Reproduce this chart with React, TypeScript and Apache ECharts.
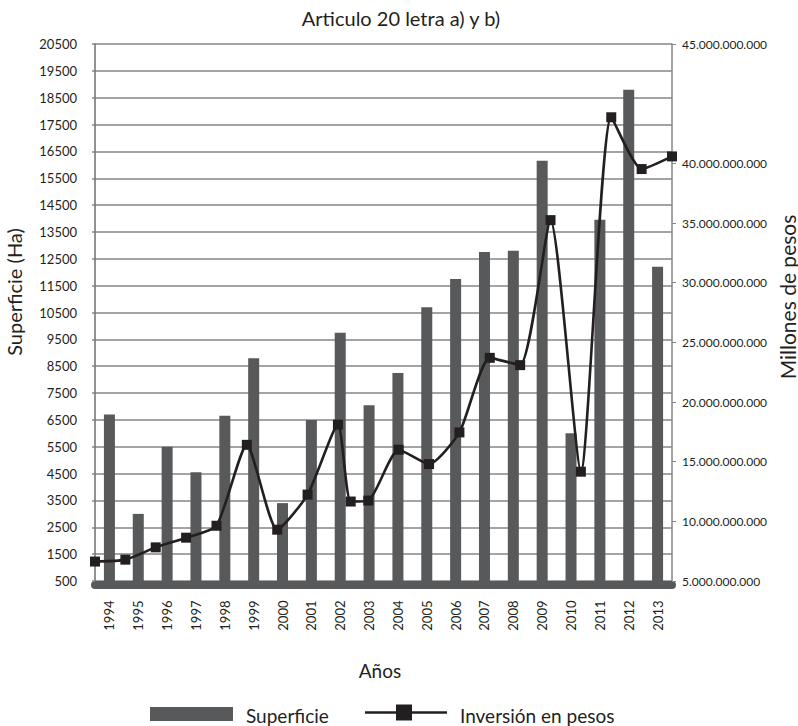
import { useEffect, useRef } from 'react';
import * as echarts from 'echarts';

// Años del período
const years = [
  '1994', '1995', '1996', '1997', '1998', '1999', '2000', '2001', '2002', '2003',
  '2004', '2005', '2006', '2007', '2008', '2009', '2010', '2011', '2012', '2013',
];

// Superficie (Ha) por año
const superficie = [
  6700, 3000, 5500, 4550, 6650, 8800, 3400, 6500, 9750, 7050,
  8250, 10700, 11750, 12750, 12800, 16150, 6000, 13950, 18800, 12200,
];

// Inversión en pesos: posición en la escala de años y monto
const inversionYear = [
  1994, 1995, 1996, 1997, 1998, 1999, 2000, 2001, 2002, 2002.42, 2003,
  2004, 2005, 2006, 2007, 2008, 2009, 2010, 2011, 2012, 2013,
];
const inversion = [
  6.63e9, 6.79e9, 7.82e9, 8.63e9, 9.63e9, 16.41e9, 9.3e9, 12.24e9, 18.1e9, 11.66e9, 11.74e9,
  16.0e9, 14.8e9, 17.45e9, 23.7e9, 23.09e9, 35.24e9, 14.16e9, 43.86e9, 39.52e9, 40.58e9,
];

// Eje secundario: valores marcados y sus textos
const rightTickValues = [5e9, 10e9, 15e9, 20e9, 25e9, 30e9, 35e9, 40e9, 50e9];
const rightTickLabels = [
  '5.000.000.000', '10.000.000.000', '15.000.000.000', '20.000.000.000', '25.000.000.000',
  '30.000.000.000', '35.000.000.000', '40.000.000.000', '45.000.000.000',
];

const FONT = 'Lato, "Open Sans", sans-serif';
const INK = '#231f20';
const BAR = '#58595b';
const GRID = '#868686';

export default function App() {
  const ref = useRef<HTMLDivElement>(null);

  useEffect(() => {
    if (!ref.current) return;
    const chart = echarts.init(ref.current, undefined, { renderer: 'svg' });

    chart.setOption({
      animation: false,
      backgroundColor: '#ffffff',
      textStyle: { fontFamily: FONT, color: INK },
      grid: { left: 95, right: 126, top: 44, bottom: 145, containLabel: false },
      xAxis: [
        {
          type: 'category',
          data: years,
          boundaryGap: true,
          offset: 3.5,
          axisLine: { lineStyle: { color: BAR, width: 8 } },
          axisTick: { show: false },
          axisLabel: {
            interval: 0,
            rotate: 90,
            margin: 16,
            fontSize: 13,
            fontFamily: FONT,
            color: INK,
          },
          splitLine: { show: false },
        },
        {
          type: 'value',
          min: 1994,
          max: 2013,
          show: false,
        },
      ],
      yAxis: [
        {
          type: 'value',
          min: 500,
          max: 20500,
          interval: 1000,
          axisLine: { show: true, lineStyle: { color: '#6d6e70', width: 1.5 } },
          axisTick: { show: true, length: 3, lineStyle: { color: GRID, width: 1.5 } },
          axisLabel: {
            margin: 18,
            fontSize: 13,
            fontFamily: FONT,
            color: INK,
            formatter: (v: number) => String(v),
          },
          splitLine: { show: true, lineStyle: { color: GRID, width: 1.6 } },
        },
        {
          type: 'value',
          min: 5e9,
          max: 50e9,
          interval: 5e9,
          position: 'right',
          axisLine: { show: true, lineStyle: { color: GRID, width: 1.5 } },
          axisTick: {
            show: true,
            length: 4,
            customValues: rightTickValues,
            lineStyle: { color: GRID, width: 1 },
          },
          axisLabel: {
            margin: 10,
            fontSize: 12,
            fontFamily: FONT,
            color: INK,
            customValues: rightTickValues,
            formatter: (v: number) => {
              const i = rightTickValues.indexOf(v);
              return i >= 0 ? rightTickLabels[i] : '';
            },
          },
          splitLine: { show: false },
        },
      ],
      series: [
        {
          name: 'Superficie',
          type: 'bar',
          xAxisIndex: 0,
          yAxisIndex: 0,
          data: superficie,
          barWidth: 11,
          itemStyle: { color: BAR },
          z: 2,
        },
        {
          name: 'Inversión en pesos',
          type: 'line',
          xAxisIndex: 1,
          yAxisIndex: 1,
          data: inversionYear.map((y, i) => [y, inversion[i]]),
          smooth: 0.2,
          symbol: 'rect',
          symbolSize: 10,
          itemStyle: { color: INK },
          lineStyle: { color: INK, width: 2.6 },
          z: 3,
        },
      ],
      graphic: [
        {
          type: 'text',
          x: 401,
          y: 18,
          style: {
            text: 'Articulo 20 letra a) y b)',
            font: `20px ${FONT}`,
            fill: INK,
            align: 'center',
            verticalAlign: 'middle',
          },
        },
        {
          type: 'text',
          x: 14,
          y: 292,
          rotation: Math.PI / 2,
          style: {
            text: 'Superficie (Ha)',
            font: `20px ${FONT}`,
            fill: INK,
            align: 'center',
            verticalAlign: 'middle',
          },
        },
        {
          type: 'text',
          x: 787,
          y: 297,
          rotation: Math.PI / 2,
          style: {
            text: 'Millones de pesos',
            font: `21px ${FONT}`,
            fill: INK,
            align: 'center',
            verticalAlign: 'middle',
          },
        },
        {
          type: 'text',
          x: 380,
          y: 670,
          style: {
            text: 'Años',
            font: `19px ${FONT}`,
            fill: INK,
            align: 'center',
            verticalAlign: 'middle',
          },
        },
        // Leyenda
        {
          type: 'rect',
          shape: { x: 150, y: 707, width: 83, height: 14 },
          style: { fill: BAR },
        },
        {
          type: 'text',
          x: 246,
          y: 715,
          style: {
            text: 'Superficie',
            font: `19px ${FONT}`,
            fill: INK,
            align: 'left',
            verticalAlign: 'middle',
          },
        },
        {
          type: 'line',
          shape: { x1: 365, y1: 712.5, x2: 447, y2: 712.5 },
          style: { stroke: INK, lineWidth: 2.6 },
        },
        {
          type: 'rect',
          shape: { x: 396, y: 704.5, width: 16, height: 16 },
          style: { fill: INK },
        },
        {
          type: 'text',
          x: 460,
          y: 715,
          style: {
            text: 'Inversión en pesos',
            font: `19px ${FONT}`,
            fill: INK,
            align: 'left',
            verticalAlign: 'middle',
          },
        },
      ],
    });

    return () => {
      chart.dispose();
    };
  }, []);

  return (
    <div
      ref={ref}
      style={{ position: 'fixed', left: 0, top: 0, width: 798, height: 726, background: '#fff' }}
    />
  );
}
